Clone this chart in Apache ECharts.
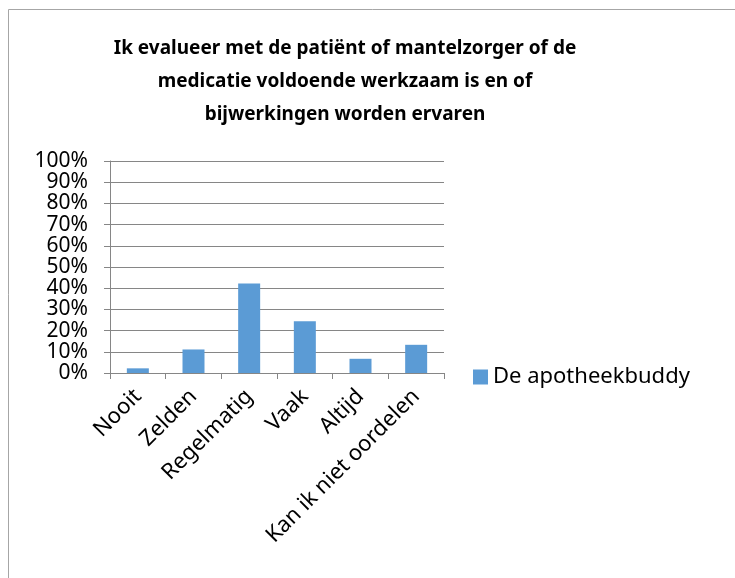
<!DOCTYPE html>
<html>
<head>
<meta charset="utf-8">
<script src="https://cdn.jsdelivr.net/npm/echarts@6/dist/echarts.min.js"></script>
<style>
  html, body { margin: 0; padding: 0; background: #fff; }
  #chart { width: 735px; height: 578px; }
</style>
</head>
<body>
<div id="chart"></div>
<script>
// antwoordcategorieën en percentages
const categories = ['Nooit', 'Zelden', 'Regelmatig', 'Vaak', 'Altijd', 'Kan ik niet oordelen']
const values = [2.2, 11.1, 42.2, 24.4, 6.7, 13.3]
const seriesName = 'De apotheekbuddy'
const titleText = 'Ik evalueer met de patiënt of mantelzorger of de\nmedicatie voldoende werkzaam is en of\nbijwerkingen worden ervaren'

const fontFamily = '"Noto Sans", "Open Sans", sans-serif'

let myChart = echarts.init(document.getElementById('chart'))
let option = {
  animation: false,
  graphic: [{
    type: 'rect',
    shape: { x: 8.5, y: 9.5, width: 760, height: 620 },
    style: { fill: 'none', stroke: '#a6a6a6', lineWidth: 1 },
    silent: true
  }],
  title: {
    text: titleText,
    left: 340,
    textAlign: 'center',
    top: 27,
    textStyle: {
      color: '#000',
      fontSize: 19,
      fontWeight: 'bold',
      fontFamily: fontFamily,
      lineHeight: 33
    }
  },
  legend: {
    data: [seriesName],
    left: 468,
    top: 361,
    itemWidth: 15,
    itemHeight: 15,
    itemGap: 6,
    icon: 'rect',
    textStyle: {
      color: '#000',
      fontSize: 22,
      fontFamily: fontFamily
    }
  },
  grid: {
    left: 110,
    right: 291,
    top: 161,
    bottom: 205,
    containLabel: false
  },
  xAxis: {
    type: 'category',
    data: categories,
    axisLine: { show: true, lineStyle: { color: '#868686', width: 1 } },
    axisTick: { show: true, alignWithLabel: false, length: 6, lineStyle: { color: '#868686' } },
    axisLabel: {
      interval: 0,
      rotate: 45,
      margin: 20,
      color: '#000',
      fontSize: 22,
      fontFamily: fontFamily
    }
  },
  yAxis: {
    type: 'value',
    min: 0,
    max: 100,
    interval: 10,
    axisLine: { show: true, lineStyle: { color: '#868686', width: 1 } },
    axisTick: { show: true, inside: false, length: 6, lineStyle: { color: '#868686' } },
    splitLine: { show: true, lineStyle: { color: '#868686', width: 1 } },
    axisLabel: {
      margin: 22,
      color: '#000',
      fontSize: 21,
      fontFamily: fontFamily,
      lineHeight: 20,
      formatter: '{value}%'
    }
  },
  series: [{
    name: seriesName,
    type: 'bar',
    barWidth: 22,
    itemStyle: { color: '#5b9bd5' },
    data: values
  }]
}
myChart.setOption(option, true)
</script>
</body>
</html>
